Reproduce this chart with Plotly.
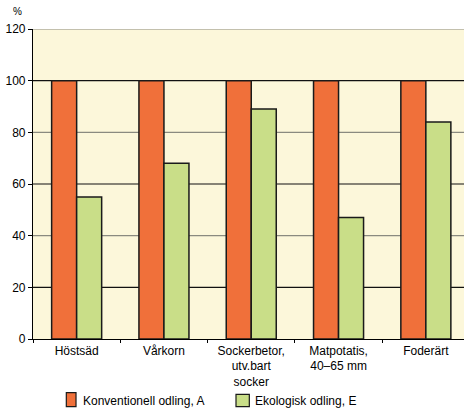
import plotly.graph_objects as go

# Relative yield per crop (conventional = 100)
categories = ["Höstsäd", "Vårkorn", "Sockerbetor,<br>utv.bart<br>socker",
              "Matpotatis,<br>40–65 mm", "Foderärt"]
konventionell = [100, 100, 100, 100, 100]
ekologisk = [55, 68, 89, 47, 84]
y_ticks = [0, 20, 40, 60, 80, 100, 120]
series_names = ["Konventionell odling, A", "Ekologisk odling, E"]

FONT = "Liberation Sans, Arial, sans-serif"
ORANGE = "#F0703A"
GREEN = "#C9DE88"
EDGE = "#1a1a1a"

fig = go.Figure()
fig.add_trace(go.Bar(x=categories, y=konventionell, name=series_names[0],
                     marker=dict(color=ORANGE, line=dict(color=EDGE, width=1.5))))
fig.add_trace(go.Bar(x=categories, y=ekologisk, name=series_names[1],
                     marker=dict(color=GREEN, line=dict(color=EDGE, width=1.5))))

# Horizontal gridlines alternate between dark and grey
shapes = []
for i, v in enumerate(y_ticks[1:]):
    shapes.append(dict(type="line", xref="paper", x0=0, x1=1, yref="y", y0=v, y1=v,
                       line=dict(color="#111111" if i % 2 == 0 else "#8a8a80", width=1.2),
                       layer="below"))

# Hand-placed legend below the chart (paper coordinates)
legend_boxes = [  # (x0, x1, y0, y1) for each swatch
    (0.0773, 0.0998, -0.1732, -0.2184),
    (0.4710, 0.5019, -0.1784, -0.2184),
]
legend_text_x = [0.1107, 0.5097]
legend_text_y = -0.1984
annotations = [dict(text="%", xref="paper", yref="paper", x=-0.037, y=1.055,
                    xanchor="center", yanchor="middle", showarrow=False,
                    font=dict(size=10))]
for (x0, x1, y0, y1), color, name, tx in zip(legend_boxes, [ORANGE, GREEN],
                                             series_names, legend_text_x):
    shapes.append(dict(type="rect", xref="paper", yref="paper", x0=x0, x1=x1,
                       y0=y0, y1=y1, fillcolor=color,
                       line=dict(color=EDGE, width=1.2)))
    annotations.append(dict(text=name, xref="paper", yref="paper", x=tx,
                            y=legend_text_y, xanchor="left", yanchor="middle",
                            showarrow=False, font=dict(size=12)))

fig.update_layout(
    width=464, height=412,
    margin=dict(l=33, r=0, t=29, b=73),
    paper_bgcolor="white",
    plot_bgcolor="#FCF7DA",
    font=dict(family=FONT, size=12, color="black"),
    barmode="group",
    bargap=0.427,
    bargroupgap=0,
    showlegend=False,
    shapes=shapes,
    annotations=annotations,
)
fig.update_xaxes(range=[-0.5, 4.437], showline=True, linecolor="black", linewidth=1.2,
                 ticks="outside", tickson="boundaries", ticklen=3, tickcolor="black",
                 showgrid=False, tickangle=0)
fig.update_yaxes(range=[0, 120], tickvals=y_ticks, showline=True, linecolor="black",
                 linewidth=1.2, ticks="outside", ticklen=4, tickcolor="black",
                 showgrid=False, zeroline=False, tickfont=dict(size=12))

fig.write_html("out.html")
